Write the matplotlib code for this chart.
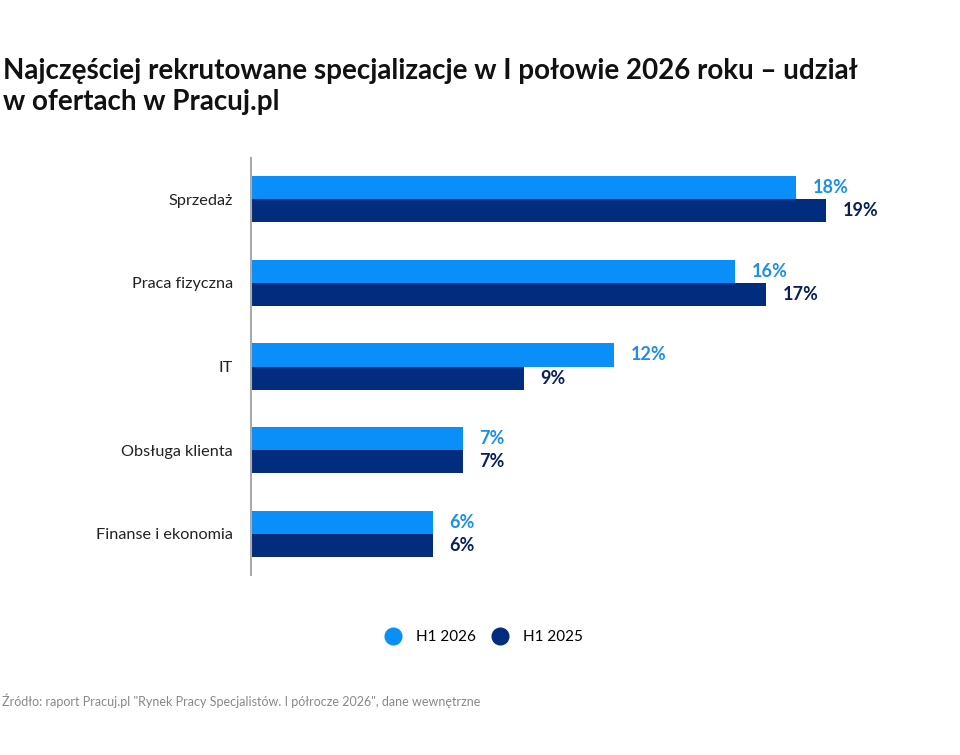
import numpy as np
import matplotlib
matplotlib.use("Agg")
from matplotlib import pyplot as plt
from matplotlib.lines import Line2D

plt.rcParams['font.family'] = ['Lato', 'DejaVu Sans']

categories = ['Sprzedaż', 'Praca fizyczna', 'IT', 'Obsługa klienta', 'Finanse i ekonomia']
h1_2026 = [18, 16, 12, 7, 6]
h1_2025 = [19, 17, 9, 7, 6]
series_names = ['H1 2026', 'H1 2025']

light = '#0A8FFA'
navy = '#022C7E'

fig = plt.figure(figsize=(9.6, 7.55), dpi=100)
ax = fig.add_axes([251 / 960, 180 / 755, 651 / 960, 417 / 755])

y = np.arange(len(categories))
h = 0.275
ax.barh(y - h / 2, h1_2026, height=h, color=light)
ax.barh(y + h / 2, h1_2025, height=h, color=navy)

for i in range(len(categories)):
    ax.text(h1_2026[i] + 0.55, y[i] - h / 2, f'{h1_2026[i]}%', va='center', ha='left',
            fontsize=13, fontweight='bold', color='#1C8FE8')
    ax.text(h1_2025[i] + 0.55, y[i] + h / 2, f'{h1_2025[i]}%', va='center', ha='left',
            fontsize=13, fontweight='bold', color='#0B1F5E')

ax.set_xlim(0, 21.5)
ax.set_ylim(4.49, -0.49)
ax.set_yticks(y)
ax.set_yticklabels(categories, fontsize=11.7, color='#222222')
ax.tick_params(axis='y', length=0, pad=13)
ax.set_xticks([])
for s in ['top', 'right', 'bottom']:
    ax.spines[s].set_visible(False)
ax.spines['left'].set_color('#aaaaaa')
ax.spines['left'].set_linewidth(1.5)

fig.text(3 / 960, 1 - 110 / 755,
         'Najczęściej rekrutowane specjalizacje w I połowie 2026 roku – udział\nw ofertach w Pracuj.pl',
         fontsize=20, fontweight='bold', color='#111111', va='baseline', ha='left', linespacing=1.25)

handles = [Line2D([], [], marker='o', linestyle='', markersize=12, color=light),
           Line2D([], [], marker='o', linestyle='', markersize=12, color=navy)]
fig.legend(handles, series_names, loc='center', bbox_to_anchor=(480 / 960, 1 - 637 / 755),
           ncol=2, frameon=False, fontsize=11, handletextpad=0.5, columnspacing=0.6)

fig.text(2 / 960, 1 - 701 / 755,
         'Źródło: raport Pracuj.pl "Rynek Pracy Specjalistów. I półrocze 2026", dane wewnętrzne',
         fontsize=9, color='#888888', va='center', ha='left')

fig.savefig('out.png', dpi=100, facecolor='white')
